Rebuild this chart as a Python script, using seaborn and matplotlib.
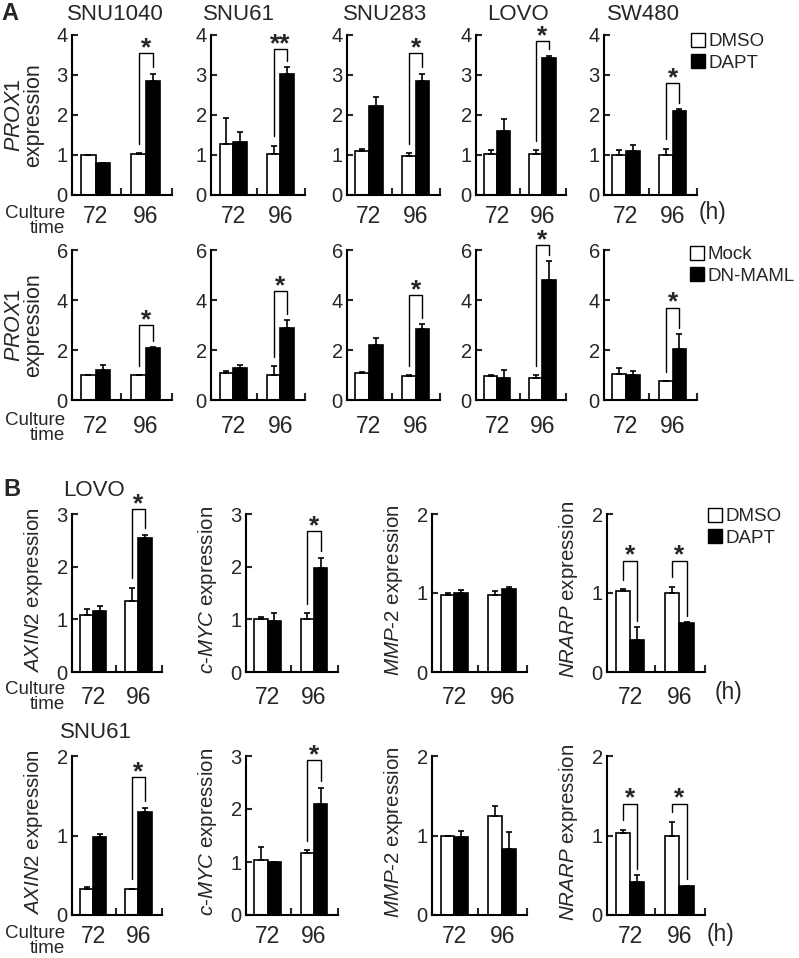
import numpy as np
import pandas as pd
import matplotlib
matplotlib.use("Agg")
import matplotlib.pyplot as plt
from matplotlib.patches import Patch
import seaborn as sns

times = ["72", "96"]

# panel A, PROX1 expression
a_lines = ["SNU1040", "SNU61", "SNU283", "LOVO", "SW480"]

# top row: DMSO / DAPT
a1_names = ["DMSO", "DAPT"]
a1_ctrl = [[1.0, 1.02], [1.27, 1.03], [1.1, 0.97], [1.02, 1.02], [1.0, 1.0]]
a1_ctrl_err = [[0, 0.02], [0.65, 0.2], [0.05, 0.07], [0.1, 0.1], [0.12, 0.15]]
a1_trt = [[0.8, 2.85], [1.32, 3.02], [2.22, 2.85], [1.6, 3.43], [1.1, 2.1]]
a1_trt_err = [[0, 0.18], [0.25, 0.17], [0.23, 0.18], [0.3, 0.05], [0.15, 0.05]]
a1_sig = [[None, "*"], [None, "**"], [None, "*"], [None, "*"], [None, "*"]]
a1_sig_y = [3.55, 3.65, 3.55, 3.85, 2.8]

# bottom row: Mock / DN-MAML
a2_names = ["Mock", "DN-MAML"]
a2_ctrl = [[1.0, 1.0], [1.1, 1.0], [1.1, 0.97], [0.95, 0.9], [1.05, 0.75]]
a2_ctrl_err = [[0, 0], [0.05, 0.35], [0.03, 0.05], [0.07, 0.1], [0.25, 0]]
a2_trt = [[1.2, 2.08], [1.3, 2.9], [2.2, 2.85], [0.9, 4.8], [1.0, 2.05]]
a2_trt_err = [[0.2, 0.03], [0.1, 0.3], [0.3, 0.2], [0.3, 0.75], [0.15, 0.6]]
a2_sig = [[None, "*"], [None, "*"], [None, "*"], [None, "*"], [None, "*"]]
a2_sig_y = [3.0, 4.36, 4.2, 6.2, 3.7]

# panel B, target genes, DMSO / DAPT
b_genes = ["AXIN2", "c-MYC", "MMP-2", "NRARP"]
b_ylabels = [r"$\mathit{AXIN2}$ expression", r"$\mathit{c}$-$\mathit{MYC}$ expression",
             r"$\mathit{MMP}$-$\mathit{2}$ expression", r"$\mathit{NRARP}$ expression"]

# LOVO
b1_ctrl = [[1.08, 1.35], [1.0, 1.0], [0.98, 0.98], [1.03, 1.0]]
b1_ctrl_err = [[0.12, 0.25], [0.05, 0.12], [0.02, 0.05], [0.02, 0.08]]
b1_trt = [[1.15, 2.55], [0.97, 1.97], [1.0, 1.05], [0.4, 0.62]]
b1_trt_err = [[0.1, 0.06], [0.15, 0.2], [0.04, 0.02], [0.17, 0.01]]
b1_ymax = [3, 3, 2, 2]
b1_sig = [[None, "*"], [None, "*"], [None, None], ["*", "*"]]
b1_sig_y = [3.1, 2.67, None, 1.41]

# SNU61
b2_ctrl = [[0.33, 0.33], [1.03, 1.17], [1.0, 1.25], [1.03, 1.0]]
b2_ctrl_err = [[0.02, 0], [0.25, 0.05], [0, 0.12], [0.04, 0.17]]
b2_trt = [[0.98, 1.3], [1.0, 2.1], [0.98, 0.83], [0.42, 0.36]]
b2_trt_err = [[0.04, 0.05], [0, 0.3], [0.08, 0.22], [0.08, 0.01]]
b2_ymax = [2, 3, 2, 2]
b2_sig = [[None, "*"], [None, "*"], [None, None], ["*", "*"]]
b2_sig_y = [1.73, 2.92, None, 1.4]

sns.set_theme(style="white")
plt.rcParams["font.family"] = ["Liberation Sans", "DejaVu Sans"]
plt.rcParams["mathtext.fontset"] = "custom"
plt.rcParams["mathtext.it"] = "Liberation Sans:italic"
plt.rcParams["mathtext.rm"] = "Liberation Sans"

W, H = 799, 958
fig = plt.figure(figsize=(W / 100, H / 100), dpi=100)


def add_ax(left, top, width, bottom):
    # pixel box -> figure fraction
    return fig.add_axes([left / W, 1 - bottom / H, width / W, (bottom - top) / H])


def draw_panel(ax, ctrl, ctrl_err, trt, trt_err, names, ymax, ystep, sig, sig_y, xpad):
    df = pd.DataFrame({
        "time": times + times,
        "group": [names[0]] * 2 + [names[1]] * 2,
        "value": list(ctrl) + list(trt),
    })
    sns.barplot(data=df, x="time", y="value", hue="group", hue_order=names,
                palette=["white", "black"], saturation=1, width=0.58,
                edgecolor="black", linewidth=1.2, errorbar=None, legend=False, ax=ax)

    tops = []
    for bars, err in zip(ax.containers, [ctrl_err, trt_err]):
        xs = np.array([b.get_x() + b.get_width() / 2 for b in bars])
        hs = np.array([b.get_height() for b in bars])
        ax.errorbar(xs, hs, yerr=[np.zeros(len(err)), err], fmt="none", ecolor="black",
                    elinewidth=1.2, capsize=2.5, capthick=1.2)
        tops.append((xs, hs + np.array(err)))

    # significance brackets
    for i, s in enumerate(sig):
        if s is None:
            continue
        x0, x1 = tops[0][0][i], tops[1][0][i]
        y0 = tops[0][1][i] + 0.06 * ymax
        y1 = tops[1][1][i] + 0.04 * ymax
        ax.plot([x0, x0, x1, x1], [y0, sig_y, sig_y, y1], color="black", lw=1, clip_on=False)
        ax.annotate(s, ((x0 + x1) / 2, sig_y), xytext=(0, -1.5), textcoords="offset points",
                    ha="center", va="baseline", fontsize=19, fontweight="bold",
                    annotation_clip=False)

    ax.set_xlim(-0.47, 1.52)
    ax.set_ylim(0, ymax)
    ax.set_yticks(np.arange(0, ymax + 0.01, ystep))
    ax.set_yticklabels([f"{v:g}" for v in np.arange(0, ymax + 0.01, ystep)])
    ax.set_xticks([0, 1])
    ax.set_xticklabels(times)
    ax.set_xticks([-0.47, 0.5, 1.52], minor=True)
    ax.tick_params(axis="x", which="major", length=0, pad=xpad, labelsize=16.5)
    ax.tick_params(axis="x", which="minor", length=5, width=1.5, direction="in", bottom=True)
    ax.tick_params(axis="y", length=4, width=1.5, direction="in", labelsize=14.5, pad=3, left=True)
    sns.despine(ax=ax)
    for sp in ["left", "bottom"]:
        ax.spines[sp].set_linewidth(1.5)
        ax.spines[sp].set_color("black")
    ax.set_xlabel("")
    ax.set_ylabel("")


def legend_at(names, x, y):
    handles = [Patch(facecolor="white", edgecolor="black", lw=1),
               Patch(facecolor="black", edgecolor="black", lw=1)]
    fig.legend(handles, names, loc="upper left", bbox_to_anchor=(x / W, 1 - y / H),
               frameon=False, fontsize=13.5, handlelength=0.75, handleheight=0.75,
               handletextpad=0.2, labelspacing=0.2, borderpad=0, borderaxespad=0)


# ---- panel A ----
a_left = [72, 211, 347, 476, 604]
a_width = [100, 94, 93, 90, 93]
a_title_x = [115, 239, 385, 518, 643]

for i, name in enumerate(a_lines):
    ax = add_ax(a_left[i], 35, a_width[i], 195)
    draw_panel(ax, a1_ctrl[i], a1_ctrl_err[i], a1_trt[i], a1_trt_err[i], a1_names,
               4, 1, a1_sig[i], a1_sig_y[i], 7.5)
    fig.text(a_title_x[i] / W, 1 - 14 / H, name, ha="center", va="center", fontsize=16)
    if i == 0:
        ax.set_ylabel(r"$\mathit{PROX1}$" + "\nexpression", fontsize=15.5, linespacing=0.9)
        ax.yaxis.set_label_coords((44 - a_left[i]) / a_width[i], 0.5)

    ax = add_ax(a_left[i], 250, a_width[i], 400)
    draw_panel(ax, a2_ctrl[i], a2_ctrl_err[i], a2_trt[i], a2_trt_err[i], a2_names,
               6, 2, a2_sig[i], a2_sig_y[i], 11)
    if i == 0:
        ax.set_ylabel(r"$\mathit{PROX1}$" + "\nexpression", fontsize=15.5, linespacing=0.9)
        ax.yaxis.set_label_coords((44 - a_left[i]) / a_width[i], 0.5)

legend_at(a1_names, 691, 33)
legend_at(a2_names, 690, 246)

fig.text(10 / W, 1 - 13 / H, "A", ha="center", va="center", fontsize=17, fontweight="bold")
for yc in [221, 428]:
    fig.text(65 / W, 1 - yc / H, "Culture\ntime", ha="right", va="center", fontsize=13.5,
             linespacing=0.88, multialignment="right")
fig.text(713 / W, 1 - 213 / H, "(h)", ha="center", va="center", fontsize=16.5)

# ---- panel B ----
b_left = [72, 246, 432, 607]
b_width = [90, 92, 95, 98]
b_rows = [
    (514, 672, b1_ctrl, b1_ctrl_err, b1_trt, b1_trt_err, b1_ymax, b1_sig, b1_sig_y, 10),
    (756, 915, b2_ctrl, b2_ctrl_err, b2_trt, b2_trt_err, b2_ymax, b2_sig, b2_sig_y, 7.5),
]
for top, bottom, ctrl, ctrl_err, trt, trt_err, ymax, sig, sig_y, xpad in b_rows:
    for i in range(len(b_genes)):
        ax = add_ax(b_left[i], top, b_width[i], bottom)
        draw_panel(ax, ctrl[i], ctrl_err[i], trt[i], trt_err[i], a1_names,
                   ymax[i], 1, sig[i], sig_y[i], xpad)
        ax.set_ylabel(b_ylabels[i], fontsize=14.8)
        ax.yaxis.set_label_coords(-27 / b_width[i], 0.52)

legend_at(a1_names, 708, 508)

fig.text(12 / W, 1 - 490 / H, "B", ha="center", va="center", fontsize=17, fontweight="bold")
fig.text(94 / W, 1 - 490 / H, "LOVO", ha="center", va="center", fontsize=16)
fig.text(96 / W, 1 - 733 / H, "SNU61", ha="center", va="center", fontsize=16)
for yc in [697, 941]:
    fig.text(65 / W, 1 - yc / H, "Culture\ntime", ha="right", va="center", fontsize=13.5,
             linespacing=0.88, multialignment="right")
fig.text(728 / W, 1 - 693 / H, "(h)", ha="center", va="center", fontsize=16.5)
fig.text(720 / W, 1 - 935 / H, "(h)", ha="center", va="center", fontsize=16.5)

fig.savefig("out.png", dpi=100)
